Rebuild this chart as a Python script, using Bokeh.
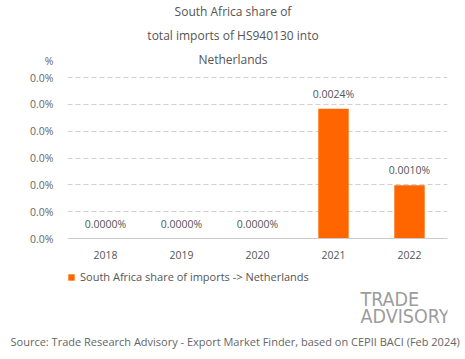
from bokeh.plotting import figure
from bokeh.models import (ColumnDataSource, FixedTicker, CustomJSTickFormatter,
                          Legend, LegendItem, Range1d, Label, Title)
from bokeh.embed import file_html
from bokeh.resources import INLINE
from bokeh.core.properties import value

years = ["2018", "2019", "2020", "2021", "2022"]
shares = [0.0, 0.0, 0.0, 0.00242, 0.00099]
share_labels = ["0.0000%", "0.0000%", "0.0000%", "0.0024%", "0.0010%"]
y_ticks = [0.0, 0.0005, 0.0010, 0.0015, 0.0020, 0.0025, 0.0030]
title_lines = ["South Africa share of", "total imports of HS940130 into", "Netherlands"]
series_name = "South Africa share of imports -> Netherlands"
source_text = "Source: Trade Research Advisory - Export Market Finder, based on CEPII BACI (Feb 2024)"
logo_lines = ["TRADE", "ADVISORY"]

FONT = "Open Sans"
ORANGE = "#FF6600"
GREY = "#555555"

# layout constants (pixels)
W, H = 465, 352
LEFT, RIGHT = 67, 18
FRAME_BOTTOM = 330          # page y of the frame bottom
AXIS_Y, TOP_Y = 238, 77     # page y of value 0 and of the top tick
Y_MAX = y_ticks[-1]
per_px = Y_MAX / (AXIS_Y - TOP_Y)
y_start = -(FRAME_BOTTOM - AXIS_Y) * per_px
y_end = AXIS_Y * per_px
pct_tick = (AXIS_Y - 60) * per_px   # where the "%" unit label sits

src = ColumnDataSource(dict(x=years, y=shares, lab=share_labels))

p = figure(x_range=years, y_range=Range1d(y_start, y_end), width=W, height=H,
           output_backend="svg", toolbar_location=None,
           min_border_left=LEFT, min_border_right=RIGHT, min_border_top=0,
           min_border_bottom=H - FRAME_BOTTOM)
p.outline_line_color = None

r = p.vbar(x="x", top="y", width=0.4, source=src, color=ORANGE, line_color=None)
p.text(x="x", y="y", text="lab", source=src, text_align="center", text_baseline="bottom",
       y_offset=-8, text_font=value(FONT), text_font_size="10.5px", text_color=GREY)

# y axis
p.yaxis.ticker = FixedTicker(ticks=y_ticks + [pct_tick])
p.yaxis.formatter = CustomJSTickFormatter(
    args=dict(ymax=Y_MAX),
    code="return tick > ymax * 1.0001 ? '%' : tick.toFixed(1) + '%';")
p.yaxis.axis_line_color = None
p.yaxis.major_tick_line_color = None
p.yaxis.minor_tick_line_color = None
p.yaxis.major_label_standoff = 8
p.yaxis.major_label_text_font = FONT
p.yaxis.major_label_text_font_size = "10.5px"
p.yaxis.major_label_text_color = "#666666"

# x axis, fixed at value 0 inside the frame
p.xaxis.fixed_location = 0
p.xaxis.axis_line_color = "#cccccc"
p.xaxis.major_tick_line_color = None
p.xaxis.minor_tick_line_color = None
p.xaxis.major_label_standoff = 6
p.xaxis.major_label_text_font = FONT
p.xaxis.major_label_text_font_size = "10.5px"
p.xaxis.major_label_text_color = GREY

p.xgrid.grid_line_color = None
p.ygrid.ticker = FixedTicker(ticks=y_ticks[1:])
p.ygrid.grid_line_color = "#d0d0d0"
p.ygrid.grid_line_dash = "5 3"

# title lines (inside the tall frame)
for i, t in enumerate(title_lines):
    p.add_layout(Label(x=232.5 - LEFT, y=FRAME_BOTTOM - (11 + 24 * i), x_units="screen",
                       y_units="screen", text=t, text_align="center", text_baseline="middle",
                       text_font=FONT, text_font_size="12px", text_color=GREY))

legend = Legend(items=[LegendItem(label=series_name, renderers=[r])],
                location=(0, FRAME_BOTTOM - 284), orientation="horizontal",
                border_line_color=None, background_fill_alpha=0,
                glyph_width=8, glyph_height=8, label_text_font=FONT,
                label_text_font_size="11px", label_text_color=GREY,
                label_text_baseline="middle",
                padding=0, margin=0, label_standoff=5, label_height=8)
p.add_layout(legend, "center")

# logo
for i, t in enumerate(logo_lines):
    p.add_layout(Label(x=360 - LEFT, y=FRAME_BOTTOM - (299 + 17 * i), x_units="screen",
                       y_units="screen", text=t, text_align="left", text_baseline="middle",
                       text_font="DejaVu Sans Condensed", text_font_size="19.5px",
                       text_color="#9c9c9c"))

# source line below the frame
p.add_layout(Title(text=source_text, align="left", offset=10 - LEFT,
                   text_font=FONT, text_font_size="11px", text_font_style="normal",
                   text_color="#666666", standoff=3), "below")

open("out.html", "w").write(file_html(p, INLINE))
